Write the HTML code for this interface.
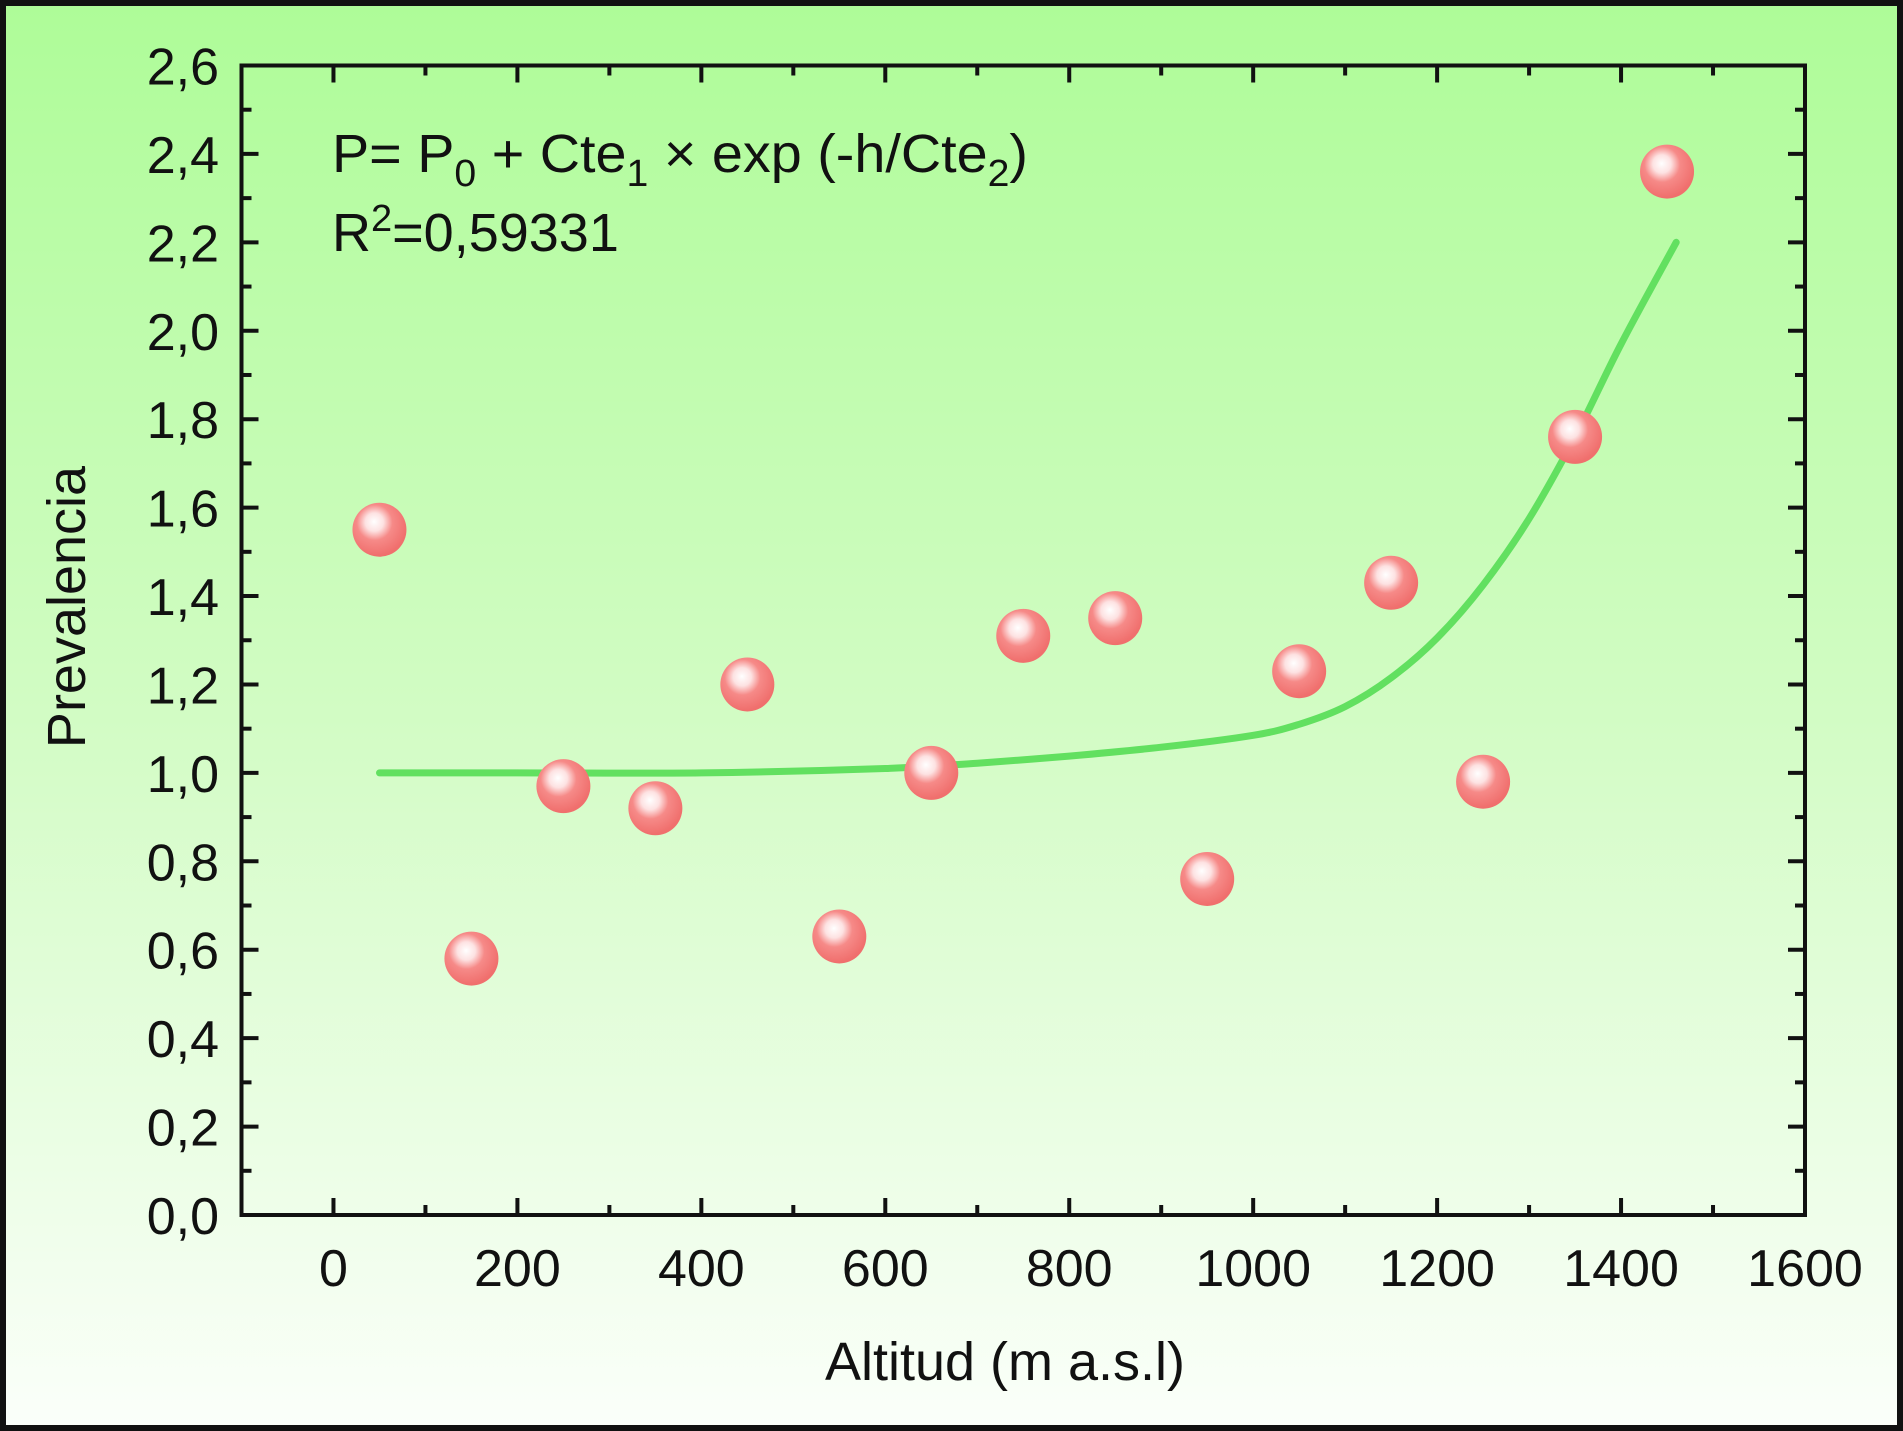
<!DOCTYPE html>
<html><head><meta charset="utf-8"><style>
html,body{margin:0;padding:0;background:#fff}
svg{display:block}
text{font-family:"Liberation Sans",Arial,sans-serif;fill:#111}
</style></head><body>
<svg id="chart" width="1903" height="1431" viewBox="0 0 1903 1431">
<defs>
<linearGradient id="bg" x1="0" y1="0" x2="0" y2="1">
<stop offset="0" stop-color="#aefc98"/><stop offset="0.5" stop-color="#d2fcc4"/><stop offset="1" stop-color="#fbfffa"/>
</linearGradient>
<radialGradient id="ball" cx="0.42" cy="0.38" r="0.6" fx="0.4" fy="0.35">
<stop offset="0" stop-color="#ffffff"/><stop offset="0.28" stop-color="#fde2e2"/><stop offset="0.55" stop-color="#f68a88"/><stop offset="1" stop-color="#f06f6d"/>
</radialGradient>
</defs>
<rect x="3" y="3" width="1897" height="1425" fill="url(#bg)" stroke="#111" stroke-width="6"/>
<g id="axes"></g>
<g id="curve"></g>
<g id="points"></g>
<text x="332" y="172" font-size="54" textLength="696" lengthAdjust="spacingAndGlyphs">P= P<tspan font-size="38" dy="14">0</tspan><tspan dy="-14"> + Cte</tspan><tspan font-size="38" dy="14">1</tspan><tspan dy="-14"> × exp (-h/Cte</tspan><tspan font-size="38" dy="14">2</tspan><tspan dy="-14">)</tspan></text>
<text x="332" y="251" font-size="54">R<tspan font-size="38" dy="-20">2</tspan><tspan dy="20">=0,59331</tspan></text>
<text x="1005" y="1380" font-size="54" text-anchor="middle">Altitud (m a.s.l)</text>
<text x="0" y="0" font-size="54" text-anchor="middle" transform="translate(85,607) rotate(-90)">Prevalencia</text>
</svg>
<script>
const xVals=[50,150,250,350,450,550,650,750,850,950,1050,1150,1250,1350,1450];
const yVals=[1.55,0.58,0.97,0.92,1.20,0.63,1.00,1.31,1.35,0.76,1.23,1.43,0.98,1.76,2.36];
const fitX=[50,200,400,600,700,800,900,1000,1050,1100,1150,1200,1250,1300,1350,1400,1460];
const fitY=[1.0,1.0,1.0,1.01,1.022,1.038,1.058,1.085,1.11,1.15,1.215,1.305,1.425,1.575,1.76,1.97,2.2];
const xTicks=[0,200,400,600,800,1000,1200,1400,1600];
const yTicks=[0,0.2,0.4,0.6,0.8,1.0,1.2,1.4,1.6,1.8,2.0,2.2,2.4,2.6];
const L=241.5,R=1805,T=65.5,B=1215,xMin=-100,xMax=1600,yMin=0,yMax=2.6;
const sx=v=>L+(v-xMin)/(xMax-xMin)*(R-L);
const sy=v=>B-(v-yMin)/(yMax-yMin)*(B-T);
const NS='http://www.w3.org/2000/svg';
function mk(tag,attrs,parent){const e=document.createElementNS(NS,tag);for(const k in attrs)e.setAttribute(k,attrs[k]);parent.appendChild(e);return e;}
const axes=document.getElementById('axes');
const frame=mk('rect',{x:L,y:T,width:R-L,height:B-T,fill:'none',stroke:'#111','stroke-width':4},axes);


for(let v=0;v<=1600;v+=100){
  const major=v%200===0,len=major?17:10,x=sx(v);
  const t1=mk('line',{x1:x,x2:x,y1:B,y2:B-len,stroke:'#111','stroke-width':4},axes);
  
  
  const t2=mk('line',{x1:x,x2:x,y1:T,y2:T+len,stroke:'#111','stroke-width':4},axes);
  
  
}
for(let i=0;i<=26;i++){
  const v=i/10,major=i%2===0,len=major?17:10,y=sy(v);
  const t1=mk('line',{x1:L,x2:L+len,y1:y,y2:y,stroke:'#111','stroke-width':4},axes);
  
  
  const t2=mk('line',{x1:R,x2:R-len,y1:y,y2:y,stroke:'#111','stroke-width':4},axes);
  
  
}
xTicks.forEach(v=>{
  const t=mk('text',{x:sx(v),y:1286,'font-size':52,'text-anchor':'middle'},axes);
  t.textContent=String(v);
  
  
});
yTicks.forEach(v=>{
  const t=mk('text',{x:219,y:sy(v)+19,'font-size':52,'text-anchor':'end'},axes);
  t.textContent=v.toFixed(1).replace('.',',');
  
  
});
const cg=document.getElementById('curve');
const P=fitX.map((x,i)=>[sx(x),sy(fitY[i])]);
let d='M'+P[0][0].toFixed(1)+' '+P[0][1].toFixed(1);
for(let i=0;i<P.length-1;i++){
  const p0=P[Math.max(0,i-1)],p1=P[i],p2=P[i+1],p3=P[Math.min(P.length-1,i+2)];
  const c1=[p1[0]+(p2[0]-p0[0])/6,p1[1]+(p2[1]-p0[1])/6];
  const c2=[p2[0]-(p3[0]-p1[0])/6,p2[1]-(p3[1]-p1[1])/6];
  d+=' C'+c1[0].toFixed(1)+' '+c1[1].toFixed(1)+' '+c2[0].toFixed(1)+' '+c2[1].toFixed(1)+' '+p2[0].toFixed(1)+' '+p2[1].toFixed(1);
}
const path=mk('path',{d:d,fill:'none',stroke:'#62e060','stroke-width':7,'stroke-linejoin':'round','stroke-linecap':'round'},cg);


const pg=document.getElementById('points');
xVals.forEach((x,i)=>{
  const c=mk('circle',{cx:sx(x),cy:sy(yVals[i]),r:27,fill:'url(#ball)'},pg);
  
  
});
</script>
</body></html>
